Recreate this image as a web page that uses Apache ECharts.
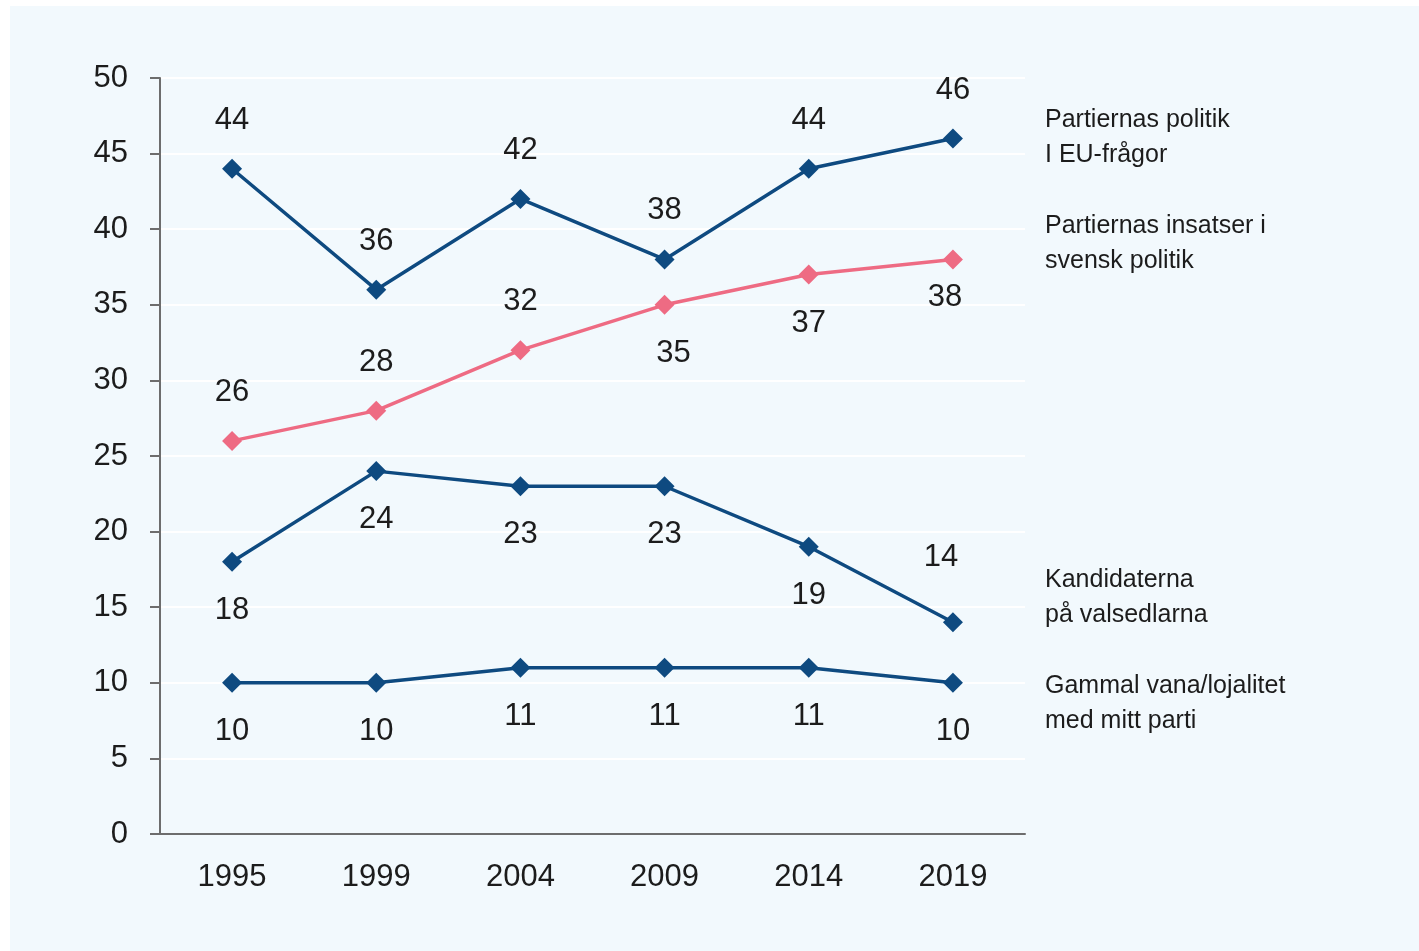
<!DOCTYPE html>
<html>
<head>
<meta charset="utf-8">
<script src="https://cdn.jsdelivr.net/npm/echarts@6/dist/echarts.min.js"></script>
<style>
  html, body { margin: 0; padding: 0; background: #ffffff; }
  #main { width: 1419px; height: 951px; }
</style>
</head>
<body>
<div id="main"></div>
<script>
// data
var years = ['1995', '1999', '2004', '2009', '2014', '2019'];
var euPolitik = [44, 36, 42, 38, 44, 46];
var svenskPolitik = [26, 28, 32, 35, 37, 38];
var kandidaterna = [18, 24, 23, 23, 19, 14];
var gammalVana = [10, 10, 11, 11, 11, 10];
var seriesNames = [
    ['Partiernas politik', 'I EU-frågor'],
    ['Partiernas insatser i', 'svensk politik'],
    ['Kandidaterna', 'på valsedlarna'],
    ['Gammal vana/lojalitet', 'med mitt parti']
];

var FONT = "'Liberation Sans Narrow', 'Arial Narrow', 'Liberation Sans', sans-serif";
var BLUE = '#0e4a80';
var PINK = '#ee6b83';
var TEXT = '#1c1c1c';

var myChart = echarts.init(document.getElementById('main'));

// label placement per point: [position, offsetX, offsetY]
function buildData(values, places) {
    return values.map(function (v, i) {
        var p = places[i];
        return {
            value: v,
            label: { position: p[0], offset: [p[1], p[2]] }
        };
    });
}

function makeSeries(values, color, places) {
    return {
        type: 'line',
        data: buildData(values, places),
        symbol: 'diamond',
        symbolSize: 20,
        lineStyle: { color: color, width: 3.5 },
        itemStyle: { color: color },
        label: {
            show: true,
            distance: 23,
            fontFamily: FONT,
            fontSize: 31,
            color: TEXT
        },
        z: 3
    };
}

var T = ['top', 0, 0], B = ['bottom', 0, 0];

var option = {
    animation: false,
    textStyle: { fontFamily: FONT },
    graphic: [
        {
            type: 'rect',
            shape: { x: 10, y: 6, width: 1409, height: 945 },
            style: { fill: '#f2f9fd' },
            z: -10
        }
    ].concat(seriesNames.map(function (lines, k) {
        var tops = [103, 209, 563, 669];
        return {
            type: 'text',
            left: 1045,
            top: tops[k],
            style: {
                text: lines.join('\n'),
                fontFamily: FONT,
                fontSize: 25,
                lineHeight: 35,
                fill: TEXT
            }
        };
    })),
    grid: { left: 160, right: 394, top: 78, bottom: 117 },
    xAxis: {
        type: 'category',
        data: years,
        boundaryGap: true,
        axisLine: { lineStyle: { color: '#6d6d6d', width: 2 } },
        axisTick: { show: false },
        axisLabel: { fontFamily: FONT, fontSize: 31, color: TEXT, margin: 28 },
        splitLine: { show: false }
    },
    yAxis: {
        type: 'value',
        min: 0,
        max: 50,
        interval: 5,
        axisLine: { show: true, lineStyle: { color: '#6d6d6d', width: 2 } },
        axisTick: { show: true, length: 10, lineStyle: { color: '#6d6d6d', width: 2 } },
        axisLabel: { fontFamily: FONT, fontSize: 31, color: TEXT, margin: 32 },
        splitLine: { lineStyle: { color: '#ffffff', width: 2 } }
    },
    series: [
        makeSeries(euPolitik, BLUE, [T, T, T, T, T, T]),
        makeSeries(svenskPolitik, PINK, [T, T, T, ['bottom', 9, 0], B, ['bottom', -8, -10]]),
        makeSeries(kandidaterna, BLUE, [B, B, B, B, B, ['top', -12, -16]]),
        makeSeries(gammalVana, BLUE, [B, B, B, B, B, B])
    ]
};

myChart.setOption(option);
</script>
</body>
</html>
